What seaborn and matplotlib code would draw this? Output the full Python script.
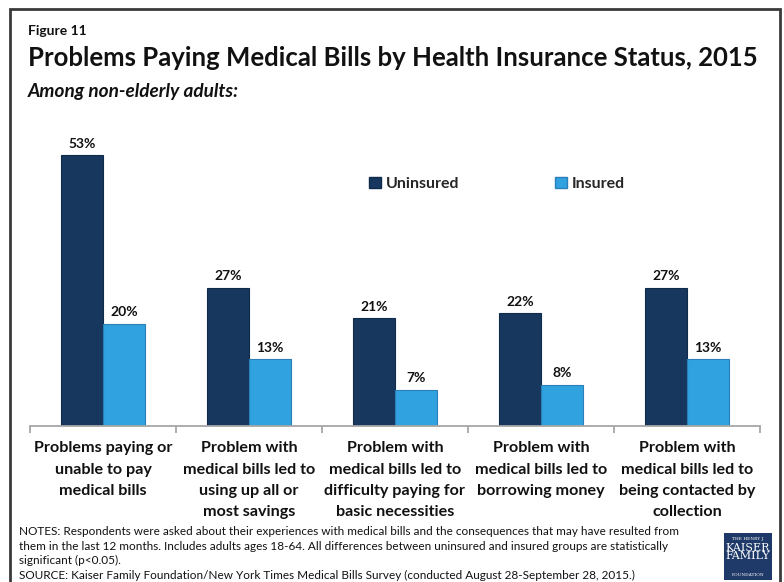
import matplotlib
matplotlib.use("Agg")
import matplotlib.pyplot as plt
import matplotlib.patches as mpatches
import seaborn as sns
import pandas as pd

categories = [
    "Problems paying or\nunable to pay\nmedical bills",
    "Problem with\nmedical bills led to\nusing up all or\nmost savings",
    "Problem with\nmedical bills led to\ndifficulty paying for\nbasic necessities",
    "Problem with\nmedical bills led to\nborrowing money",
    "Problem with\nmedical bills led to\nbeing contacted by\ncollection",
]
uninsured = [53, 27, 21, 22, 27]
insured = [20, 13, 7, 8, 13]
groups = ["Uninsured", "Insured"]
colors = {"Uninsured": "#17375e", "Insured": "#31a2e0"}
edges = {"Uninsured": "#0f2a4a", "Insured": "#2a7fb8"}

df = pd.DataFrame({
    "category": categories * 2,
    "group": ["Uninsured"] * len(categories) + ["Insured"] * len(categories),
    "value": uninsured + insured,
})

sns.set_theme(style="white")
plt.rcParams["font.family"] = ["Lato", "DejaVu Sans"]

W, H = 784, 582
fig = plt.figure(figsize=(W / 100, H / 100), dpi=100)

def fx(px):
    return px / W

def fy(py):
    return 1 - py / H

ax = fig.add_axes([fx(30), fy(425.5), fx(760) - fx(30), fy(119.5) - fy(425.5)])
sns.barplot(data=df, x="category", y="value", hue="group", hue_order=groups,
            order=categories, palette=colors, saturation=1, width=0.575, gap=0,
            ax=ax, legend=False, linewidth=0)

for container, g in zip(ax.containers, groups):
    for bar in container:
        bar.set_edgecolor(edges[g])
        bar.set_linewidth(0.8)
    ax.bar_label(container, labels=[f"{int(v)}%" for v in container.datavalues],
                 padding=4, fontsize=10, fontweight="bold", color="#111111")

ax.set_ylim(0, 60)
ax.set_xlim(-0.5, len(categories) - 0.5)
ax.set_xlabel("")
ax.set_ylabel("")
ax.set_yticks([])
for s in ["top", "right", "left"]:
    ax.spines[s].set_visible(False)
ax.spines["bottom"].set_color("#a6a6a6")
ax.spines["bottom"].set_linewidth(1.3)
ax.set_xticks(range(len(categories)))
ax.set_xticklabels(categories, fontsize=11.6, fontweight="bold", color="#111111",
                   linespacing=1.66, va="top")
ax.tick_params(axis="x", which="major", length=0, pad=11.5)
ax.set_xticks([i - 0.5 for i in range(len(categories) + 1)], minor=True)
ax.tick_params(axis="x", which="minor", length=5, width=1.3, color="#a6a6a6",
               direction="out", bottom=True)

# legend
handles = [mpatches.Patch(facecolor=colors[g], edgecolor=edges[g], label=g) for g in groups]
fig.legend(handles=handles, loc="center left", bbox_to_anchor=(fx(355), fy(184)),
           ncol=2, frameon=False, prop={"weight": "bold", "size": 11.5},
           handlelength=0.75, handleheight=0.75, handletextpad=0.3, columnspacing=5.95)

# headings
fig.text(fx(28), fy(35), "Figure 11", fontsize=10, fontweight="bold", color="#111111")
fig.text(fx(28), fy(66), "Problems Paying Medical Bills by Health Insurance Status, 2015",
         fontsize=18.5, fontweight="bold", color="#111111")
fig.text(fx(28), fy(97), "Among non-elderly adults:", fontsize=13.7, fontweight="bold",
         style="italic", color="#111111")

notes = ("NOTES: Respondents were asked about their experiences with medical bills and the consequences that may have resulted from\n"
         "them in the last 12 months. Includes adults ages 18-64. All differences between uninsured and insured groups are statistically\n"
         "significant (p<0.05).\n"
         "SOURCE: Kaiser Family Foundation/New York Times Medical Bills Survey (conducted August 28-September 28, 2015.)")
fig.text(fx(19), fy(526), notes, fontsize=8.5, color="#111111", va="top", linespacing=1.4)

# foundation mark
fig.patches.append(mpatches.Rectangle((fx(724), fy(580)), fx(48), fy(533) - fy(580),
                                      transform=fig.transFigure, facecolor="#1f3a68",
                                      edgecolor="none"))
fig.text(fx(748), fy(539), "THE HENRY J.", fontsize=3.2, color="white", ha="center",
         va="center", family="DejaVu Serif")
fig.text(fx(748), fy(552), "KAISER\nFAMILY", fontsize=8, color="white", ha="center",
         va="center", family="DejaVu Serif", linespacing=0.85)
fig.text(fx(748), fy(575), "FOUNDATION", fontsize=3.2, color="white", ha="center",
         va="center", family="DejaVu Serif")

# outer frame
fig.patches.append(mpatches.Rectangle((fx(10), fy(600)), fx(780) - fx(10), fy(9) - fy(600),
                                      transform=fig.transFigure, facecolor="none",
                                      edgecolor="#3a3a3a", linewidth=2, clip_on=False))

fig.savefig("out.png", dpi=100)
